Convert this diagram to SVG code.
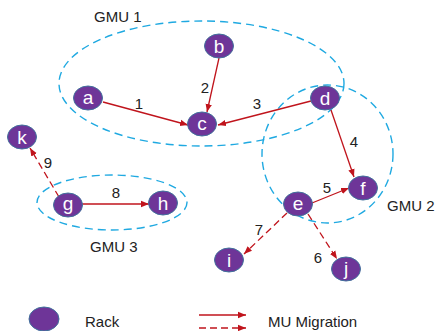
<svg xmlns="http://www.w3.org/2000/svg" width="436" height="331" viewBox="0 0 436 331">
<defs>
<style>
.gmu{fill:none;stroke:#1FA9E1;stroke-width:1.4;stroke-dasharray:8 5}
.node{fill:#6E3598;stroke:#41719C;stroke-width:1}
.nl{font-family:"Liberation Sans",Arial,sans-serif;font-size:19px;fill:#fff;text-anchor:middle}
.lbl{font-family:"Liberation Sans",Arial,sans-serif;font-size:15px;fill:#222;text-anchor:middle}
.glbl{font-family:"Liberation Sans",Arial,sans-serif;font-size:15px;fill:#222}
.e{stroke:#C0141C;stroke-width:1.3;fill:none;marker-end:url(#ah)}
.d{stroke-dasharray:7 4}
</style>
<marker id="ah" markerUnits="userSpaceOnUse" markerWidth="8" markerHeight="8" viewBox="0 0 8 8" refX="8" refY="4" orient="auto">
<path d="M0,0.8 L8,4 L0,7.2 Z" fill="#C0141C"/>
</marker>
</defs>
<g id="gmus">
<ellipse class="gmu" cx="201.5" cy="83.5" rx="142.5" ry="62.5"/>
<ellipse class="gmu" cx="327.5" cy="154" rx="65.5" ry="69"/>
<ellipse class="gmu" cx="112" cy="202.5" rx="75" ry="27.5"/>
<text class="glbl" x="94" y="22">GMU 1</text>
<text class="glbl" x="387" y="211">GMU 2</text>
<text class="glbl" x="90" y="252">GMU 3</text>
</g>
<g id="connectors">
<line class="e" x1="103" y1="102" x2="188" y2="125"/>
<line class="e" x1="219" y1="58" x2="207" y2="112"/>
<line class="e" x1="311" y1="101" x2="218" y2="125"/>
<line class="e" x1="331" y1="110" x2="354" y2="177"/>
<line class="e" x1="312" y1="203" x2="349" y2="188"/>
<line class="e d" x1="308" y1="214" x2="337" y2="259"/>
<line class="e d" x1="287" y1="213" x2="244" y2="254"/>
<line class="e" x1="80" y1="204" x2="149" y2="204"/>
<line class="e d" x1="59" y1="197" x2="30" y2="148"/>
<text class="lbl" x="139" y="109">1</text>
<text class="lbl" x="205" y="93">2</text>
<text class="lbl" x="257" y="109">3</text>
<text class="lbl" x="354" y="147">4</text>
<text class="lbl" x="327" y="193">5</text>
<text class="lbl" x="318" y="263">6</text>
<text class="lbl" x="259" y="235">7</text>
<text class="lbl" x="116" y="198">8</text>
<text class="lbl" x="48" y="168">9</text>
</g>
<g id="node-a"><ellipse class="node" cx="88" cy="98" rx="14.5" ry="12"/><text class="nl" x="88" y="104">a</text></g>
<g id="node-b"><ellipse class="node" cx="219" cy="46" rx="14.5" ry="12"/><text class="nl" x="219" y="53">b</text></g>
<g id="node-c"><ellipse class="node" cx="202" cy="124" rx="14.5" ry="12"/><text class="nl" x="202" y="130">c</text></g>
<g id="node-d"><ellipse class="node" cx="325" cy="98" rx="14.5" ry="12"/><text class="nl" x="325" y="105">d</text></g>
<g id="node-e"><ellipse class="node" cx="298" cy="204" rx="14.5" ry="12"/><text class="nl" x="298" y="210">e</text></g>
<g id="node-f"><ellipse class="node" cx="363" cy="188" rx="14.5" ry="12"/><text class="nl" x="363" y="195">f</text></g>
<g id="node-g"><ellipse class="node" cx="68" cy="205" rx="14.5" ry="12"/><text class="nl" x="68" y="210">g</text></g>
<g id="node-h"><ellipse class="node" cx="163" cy="203" rx="14.5" ry="12"/><text class="nl" x="163" y="210">h</text></g>
<g id="node-i"><ellipse class="node" cx="229" cy="260" rx="14.5" ry="12"/><text class="nl" x="229" y="267">i</text></g>
<g id="node-j"><ellipse class="node" cx="346" cy="269" rx="14.5" ry="12"/><text class="nl" x="346" y="275">j</text></g>
<g id="node-k"><ellipse class="node" cx="22" cy="137" rx="14.5" ry="12"/><text class="nl" x="22" y="144">k</text></g>
<g id="legend">
<ellipse class="node" cx="44" cy="319" rx="15" ry="12"/>
<text class="glbl" x="85" y="327">Rack</text>
<line class="e" x1="199" y1="315" x2="246" y2="315"/>
<line class="e d" x1="199" y1="328" x2="246" y2="328"/>
<text class="glbl" x="268" y="327">MU Migration</text>
</g>
</svg>
